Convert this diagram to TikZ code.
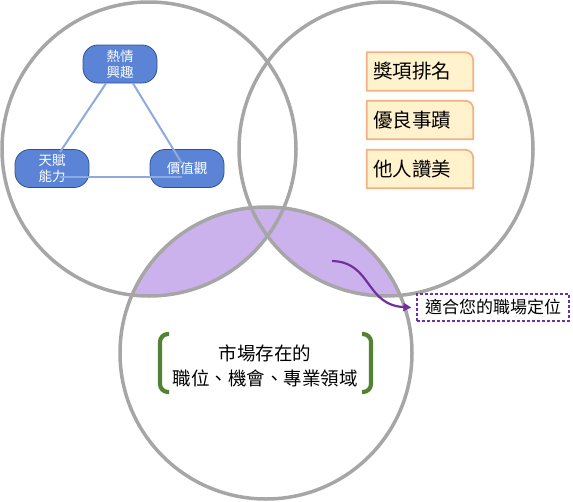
\documentclass[tikz,border=0pt]{standalone}
\usepackage{fontspec}
\setmainfont{Noto Sans CJK TC}
\usetikzlibrary{arrows.meta,calc,backgrounds}
\definecolor{ringgray}{RGB}{166,166,166}
\definecolor{lav}{RGB}{204,178,236}
\definecolor{bluefill}{RGB}{91,132,214}
\definecolor{blueline}{RGB}{47,82,143}
\definecolor{triline}{RGB}{143,170,220}
\definecolor{orfill}{RGB}{255,242,204}
\definecolor{orline}{RGB}{244,177,131}
\definecolor{grn}{RGB}{84,130,53}
\definecolor{vio}{RGB}{112,48,160}
\begin{document}
\begin{tikzpicture}[x=1pt,y=-1pt,
  ring/.style={draw=ringgray, line width=3.5pt},
  bnode/.style={draw=blueline, line width=0.8pt, fill=bluefill, rounded corners=15pt,
    minimum width=74pt, minimum height=38pt, text=white, align=center, inner sep=0pt,
    font=\fontsize{13.5}{16}\selectfont},
  tri/.style={draw=triline, line width=2pt},
  obox/.style={minimum width=106pt, minimum height=38pt, text width=94pt, inner xsep=6pt,
    inner ysep=0pt, align=left, font=\fontsize{19.5}{22}\selectfont},
  oshape/.style={fill=orfill, draw=orline, line width=1.8pt},
  bracket/.style={draw=grn, line width=4.2pt, rounded corners=8pt},
  lblbox/.style={draw=vio, line width=1.2pt, dash pattern=on 3pt off 2pt,
    minimum width=152pt, minimum height=27pt, inner sep=0pt, font=\fontsize{17}{19}\selectfont},
  conn/.style={draw=vio, line width=2.2pt, -{Triangle[length=8pt,width=8pt]}}
]
\useasboundingbox (0,0) rectangle (573,501);
\coordinate (c1) at (149,149);
\coordinate (c2) at (386,149);
\coordinate (c3) at (266,353);
% purple overlap
\begin{scope}
  \clip (c3) circle[radius=146pt];
  \fill[lav] (c1) circle[radius=147pt];
  \fill[lav] (c2) circle[radius=147pt];
\end{scope}
% rings
\draw[ring] (c1) circle[radius=147pt];
\draw[ring] (c2) circle[radius=147pt];
\draw[ring] (c3) circle[radius=146pt];
% blue nodes
\node[bnode] (t) at (120,64) {熱情\\興趣};
\node[bnode] (l) at (52,168.5) {天賦\\能力};
\node[bnode] (r) at (187,168.5) {價值觀};
\draw[tri] ($(t.south)+(-14pt,0)$) -- ($(l.north)+(8pt,-3pt)$);
\draw[tri] ($(t.south)+(13pt,0)$) -- ($(r.center)+(-5pt,5pt)$);
\draw[tri] ($(l.center)+(8pt,-8pt)$) -- ($(r.center)+(-5pt,-8pt)$);
% orange boxes
\node[obox] (o1) at (420,71.5) {獎項排名};
\node[obox] (o2) at (420,120) {優良事蹟};
\node[obox] (o3) at (420,169) {他人讚美};
\begin{scope}[on background layer]
\foreach \n in {o1,o2,o3}
  \draw[oshape] (\n.south west) -- (\n.north west) -- ($(\n.north east)+(-8pt,0)$)
    arc[start angle=90,end angle=0,radius=8pt] -- (\n.south east) -- cycle;
\end{scope}
% market text with brackets
\node[font=\fontsize{18.5}{25}\selectfont, align=center] (mk) at (265,366) {市場存在的\\職位、機會、專業領域};
\draw[bracket] (169,334) -- (160,334) -- (160,392) -- (169,392);
\draw[bracket] (362,334) -- (371,334) -- (371,392) -- (362,392);
% label and arrow
\node[lblbox] (lbl) at (493,307.5) {適合您的職場定位};
\coordinate (as) at (332,261);
\draw[conn] (as) .. controls (372,262) and (365,305) .. ($(lbl.west)+(-5pt,0)$);
\end{tikzpicture}
\end{document}
